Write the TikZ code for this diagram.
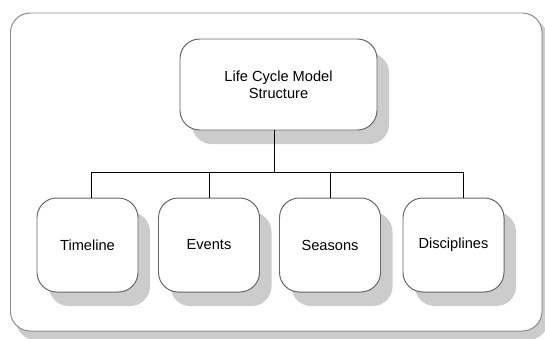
\documentclass[tikz,border=0pt]{standalone}
\usepackage{fontspec}
\setmainfont{Liberation Sans}
\usepackage{tikz}
\usetikzlibrary{shadows,calc}

\begin{document}
\begin{tikzpicture}[
    x=0.025cm, y=-0.025cm,
    every node/.style={font=\fontsize{10.4}{11.8}\selectfont},
    unit/.style={draw=black!60,line width=0.7pt,fill=white,rounded corners=14pt,align=center,
        minimum width=101*0.025cm,minimum height=94*0.025cm,
        drop shadow={shadow xshift=12*0.025cm,shadow yshift=-14*0.025cm,fill=black!20,opacity=1}},
    link/.style={draw=black,line width=0.7pt}
]
\useasboundingbox (0,0) rectangle (545,338);
% outer frame
\fill[black!20,rounded corners=14pt] (16,19) rectangle (548,340);
\draw[black!45,line width=0.7pt,fill=white,rounded corners=14pt] (10.5,13) rectangle (542,331);

\node[unit,minimum width=197*0.025cm,minimum height=91*0.025cm] (lcm) at (278.5,84.5) {Life Cycle Model\\Structure};
\node[unit] (tl) at (87.5,245) {Timeline};
\node[unit] (ev) at (209,245) {Events};
\node[unit] (se) at (330,245) {Seasons};
\node[unit] (di) at (453.5,245) {Disciplines};

\coordinate (bus) at (274.5,172);
\coordinate (j1) at (91,172);
\coordinate (j2) at (209.5,172);
\coordinate (j3) at (330,172);
\coordinate (j4) at (463,172);

\draw[link] (lcm.south -| bus) -- (bus);
\draw[link] (j1) -- (j4);
\draw[link] (j1) -- (j1 |- tl.north);
\draw[link] (j2) -- (j2 |- ev.north);
\draw[link] (j3) -- (j3 |- se.north);
\draw[link] (j4) -- (j4 |- di.north);
\end{tikzpicture}
\end{document}
